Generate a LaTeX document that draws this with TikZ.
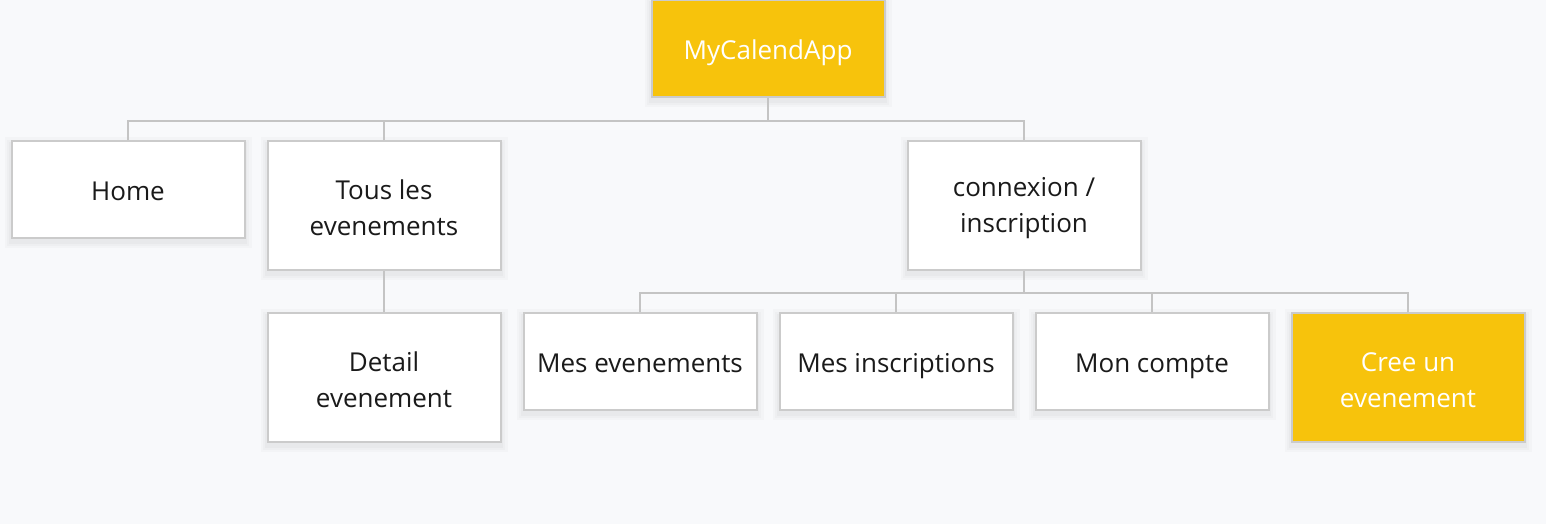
\documentclass[tikz,border=0pt]{standalone}
\usepackage{fontspec}
\setmainfont{Open Sans}
\definecolor{bg}{HTML}{F8F9FB}
\definecolor{ylw}{HTML}{F7C30C}
\definecolor{bdr}{HTML}{CBCBCB}
\definecolor{lin}{HTML}{C4C4C4}
\definecolor{txt}{HTML}{1A1A1A}
\newcommand{\twolines}[2]{\rule{0pt}{25pt}#1\\#2\rule[-1.6pt]{0pt}{0pt}}
\tikzset{
  shd/.style={preaction={draw=black, draw opacity=0.018, line width=14pt, transform canvas={yshift=-3pt}},
    preaction={draw=black, draw opacity=0.02, line width=9pt, transform canvas={yshift=-3pt}},
    preaction={draw=black, draw opacity=0.025, line width=5pt, transform canvas={yshift=-3pt}}},
  box/.style={shd, draw=bdr, line width=2pt, minimum width=233pt, align=center,
    font=\fontsize{26}{36}\selectfont, text=txt, fill=white, inner sep=0pt},
  short/.style={minimum height=97pt,
    execute at begin node=\rule{0pt}{28pt}, execute at end node=\rule[-5.6pt]{0pt}{0pt}},
  tall/.style={minimum height=129pt},
  hl/.style={fill=ylw, text=white},
  conn/.style={draw=lin, line width=2pt}
}
\begin{document}
\begin{tikzpicture}[x=1pt,y=-1pt]
\fill[bg] (0,0) rectangle (1546,524);
\useasboundingbox (0,0) rectangle (1546,524);
\node[box,short,hl] (root) at (768,49) {MyCalendApp};
\node[box,short] (home) at (128,189.5) {Home};
\node[box,tall] (tous) at (384,205.5) {\twolines{Tous les}{evenements}};
\node[box,tall] (cnx) at (1024,205.5) {\twolines{connexion /}{ inscription}};
\node[box,tall] (detail) at (384,377.5) {\twolines{Detail}{evenement}};
\node[box,short] (mesev) at (640,361.5) {Mes evenements};
\node[box,short] (mesins) at (896,361.5) {Mes inscriptions};
\node[box,short] (compte) at (1152,361.5) {Mon compte};
\node[box,tall,hl] (cree) at (1408,377.5) {\twolines{Cree un}{evenement}};
\coordinate (j1) at (768,121);
\coordinate (j2) at (1024,293);
\draw[conn] (root.south) -- (j1);
\draw[conn] (home.north) |- (j1);
\draw[conn] (tous.north) |- (j1);
\draw[conn] (cnx.north) |- (j1);
\draw[conn] (tous.south) -- (detail.north);
\draw[conn] (cnx.south) -- (j2);
\draw[conn] (mesev.north) |- (j2);
\draw[conn] (mesins.north) |- (j2);
\draw[conn] (compte.north) |- (j2);
\draw[conn] (cree.north) |- (j2);
\end{tikzpicture}
\end{document}
